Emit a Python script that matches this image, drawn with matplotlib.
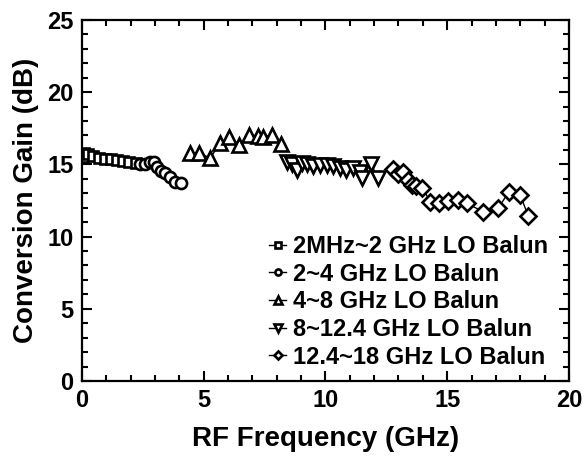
import numpy as np
import matplotlib.pyplot as plt
from matplotlib.ticker import MultipleLocator

plt.rcParams['font.family'] = ['Liberation Sans', 'DejaVu Sans']
plt.rcParams['font.weight'] = 'bold'

# data (GHz, dB)
f1 = [0.02, 0.1, 0.25, 0.45, 0.7, 0.95, 1.2, 1.45, 1.7, 1.95, 2.2]
g1 = [15.5, 15.8, 15.7, 15.55, 15.45, 15.4, 15.35, 15.3, 15.25, 15.15, 15.1]

f2 = [2.37, 2.57, 2.78, 2.96, 3.09, 3.26, 3.42, 3.6, 3.83, 4.08]
g2 = [15.03, 15.03, 15.19, 15.19, 14.8, 14.56, 14.38, 14.15, 13.8, 13.73]

f3 = [4.44, 4.82, 5.26, 5.67, 6.05, 6.46, 6.87, 7.24, 7.45, 7.79, 8.16]
g3 = [15.77, 15.81, 15.42, 16.46, 16.92, 16.34, 17.04, 16.97, 16.92, 17.04, 16.41]

f4 = [8.42, 8.62, 8.83, 9.03, 9.24, 9.49, 9.77, 10.06, 10.31, 10.6, 10.84,
      11.13, 11.42, 11.5, 11.87, 12.15]
g4 = [15.17, 15.03, 14.6, 15.1, 15.03, 14.89, 14.96, 14.96, 14.89, 14.75, 14.61,
      14.75, 14.47, 14.06, 15.05, 14.06]

f5 = [12.78, 12.97, 13.2, 13.38, 13.55, 13.72, 13.98, 14.3, 14.66, 15.02, 15.43,
      15.8, 16.47, 17.1, 17.53, 18.0, 18.33]
g5 = [14.68, 14.35, 14.45, 13.9, 13.57, 13.5, 13.39, 12.42, 12.3, 12.45, 12.55,
      12.32, 11.72, 11.95, 13.11, 12.88, 11.43]

labels = ['2MHz~2 GHz LO Balun', '2~4 GHz LO Balun', '4~8 GHz LO Balun',
          '8~12.4 GHz LO Balun', '12.4~18 GHz LO Balun']
markers = ['s', 'o', '^', 'v', 'D']
msizes = [7, 8, 10, 10, 8]

fig = plt.figure(figsize=(5.88, 4.63), dpi=100)
ax = fig.add_axes([0.1395, 0.177, 0.828, 0.78])

series = [(f1, g1), (f2, g2), (f3, g3), (f4, g4), (f5, g5)]
for (f, g), m, ms, lab in zip(series, markers, msizes, labels):
    ax.plot(f, g, color='black', lw=1.0, marker=m, ms=ms, mfc='white',
            mec='black', mew=1.9, label=lab)

ax.set_xlim(0, 20)
ax.set_ylim(0, 25)
ax.xaxis.set_major_locator(MultipleLocator(5))
ax.xaxis.set_minor_locator(MultipleLocator(1))
ax.yaxis.set_major_locator(MultipleLocator(5))
ax.yaxis.set_minor_locator(MultipleLocator(1))
ax.tick_params(which='both', direction='in', top=True, right=True, width=1.5)
ax.tick_params(which='major', length=7, labelsize=17, pad=6)
ax.tick_params(which='minor', length=4)
for s in ax.spines.values():
    s.set_linewidth(1.6)

ax.set_xlabel('RF Frequency (GHz)', fontsize=20, fontweight='bold', labelpad=10)
ax.set_ylabel('Conversion Gain (dB)', fontsize=20, fontweight='bold', labelpad=6)

leg = ax.legend(loc='upper left', bbox_to_anchor=(0.385, 0.405), frameon=False,
                fontsize=17, markerscale=0.55, handlelength=0.7,
                handletextpad=0.3, labelspacing=0.2, borderpad=0,
                borderaxespad=0)

fig.savefig('out.png', dpi=100)
